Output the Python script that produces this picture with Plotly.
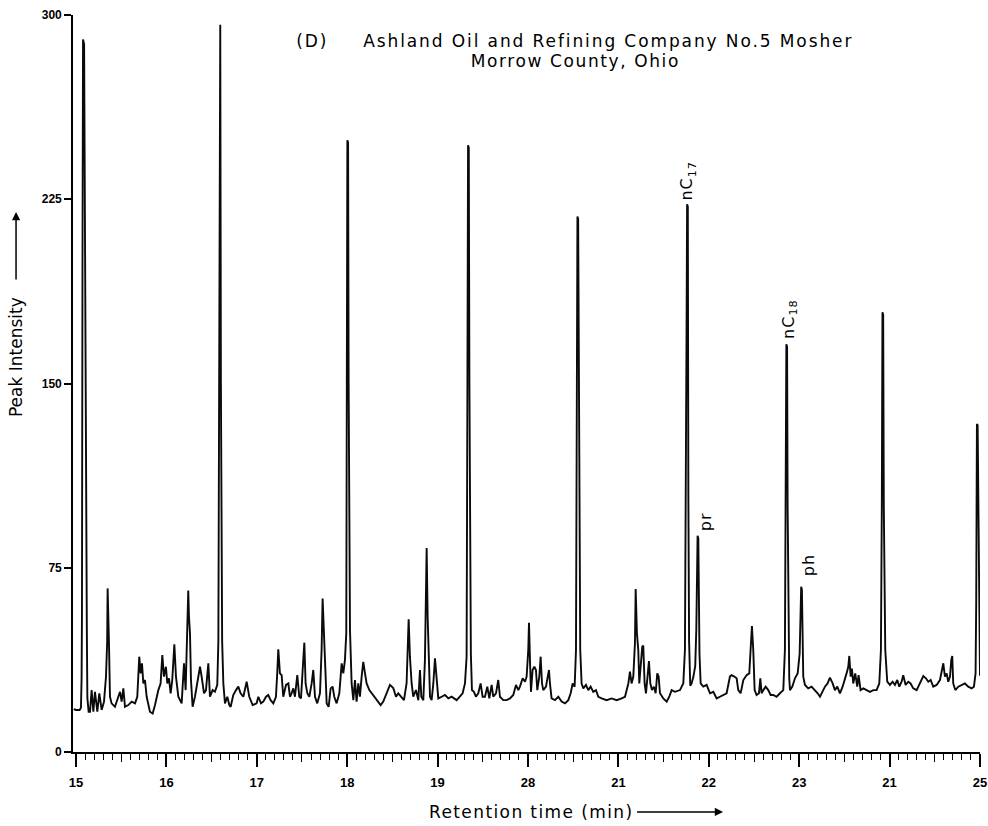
import plotly.graph_objects as go

# ---------------- data ----------------
rt = [
    14.975, 15.000, 15.040, 15.055, 15.062, 15.066, 15.072, 15.078, 15.090, 15.100,
    15.106, 15.114, 15.120, 15.126, 15.140, 15.155, 15.173, 15.192, 15.210, 15.236,
    15.258, 15.284, 15.310, 15.332, 15.345, 15.350, 15.356, 15.365, 15.376, 15.394,
    15.431, 15.468, 15.487, 15.505, 15.524, 15.542, 15.579, 15.616, 15.653, 15.678,
    15.700, 15.715, 15.730, 15.745, 15.763, 15.782, 15.818, 15.848, 15.874, 15.911,
    15.936, 15.955, 15.973, 15.995, 16.010, 16.029, 16.047, 16.065, 16.088, 16.106,
    16.132, 16.169, 16.195, 16.213, 16.235, 16.242, 16.250, 16.261, 16.272, 16.290,
    16.316, 16.342, 16.372, 16.390, 16.416, 16.438, 16.464, 16.482, 16.512, 16.537,
    16.563, 16.575, 16.582, 16.588, 16.596, 16.603, 16.610, 16.617, 16.630, 16.648,
    16.674, 16.696, 16.711, 16.740, 16.770, 16.796, 16.821, 16.851, 16.888, 16.917,
    16.954, 16.998, 17.017, 17.046, 17.072, 17.102, 17.127, 17.153, 17.183, 17.212,
    17.227, 17.238, 17.256, 17.275, 17.293, 17.323, 17.349, 17.367, 17.385, 17.404,
    17.422, 17.448, 17.470, 17.489, 17.514, 17.526, 17.540, 17.559, 17.581, 17.607,
    17.625, 17.644, 17.669, 17.699, 17.717, 17.728, 17.743, 17.754, 17.773, 17.795,
    17.817, 17.839, 17.857, 17.883, 17.913, 17.939, 17.957, 17.975, 17.990, 17.996,
    18.002, 18.010, 18.016, 18.024, 18.031, 18.049, 18.068, 18.086, 18.104, 18.123,
    18.141, 18.160, 18.178, 18.197, 18.215, 18.245, 18.270, 18.307, 18.344, 18.370,
    18.399, 18.436, 18.473, 18.510, 18.540, 18.565, 18.602, 18.628, 18.657, 18.668,
    18.680, 18.694, 18.713, 18.731, 18.761, 18.787, 18.805, 18.820, 18.842, 18.860,
    18.871, 18.879, 18.890, 18.901, 18.916, 18.934, 18.953, 18.971, 18.989, 19.008,
    19.045, 19.082, 19.119, 19.155, 19.211, 19.247, 19.277, 19.303, 19.321, 19.330,
    19.337, 19.345, 19.352, 19.360, 19.368, 19.380, 19.402, 19.424, 19.450, 19.476,
    19.498, 19.524, 19.550, 19.572, 19.598, 19.616, 19.646, 19.671, 19.690, 19.727,
    19.764, 19.801, 19.837, 19.867, 19.893, 19.911, 19.941, 19.967, 19.985, 20.003,
    20.011, 20.022, 20.033, 20.051, 20.070, 20.088, 20.103, 20.125, 20.140, 20.155,
    20.169, 20.199, 20.217, 20.232, 20.243, 20.261, 20.298, 20.335, 20.372, 20.409,
    20.446, 20.472, 20.494, 20.516, 20.531, 20.540, 20.547, 20.555, 20.562, 20.570,
    20.578, 20.593, 20.612, 20.641, 20.667, 20.693, 20.722, 20.752, 20.778, 20.815,
    20.870, 20.925, 20.981, 21.036, 21.073, 21.110, 21.128, 21.146, 21.165, 21.183,
    21.191, 21.205, 21.220, 21.231, 21.246, 21.264, 21.275, 21.290, 21.305, 21.323,
    21.338, 21.353, 21.371, 21.393, 21.412, 21.430, 21.445, 21.460, 21.497, 21.534,
    21.563, 21.589, 21.626, 21.681, 21.718, 21.736, 21.748, 21.755, 21.760, 21.768,
    21.774, 21.782, 21.795, 21.810, 21.830, 21.850, 21.862, 21.870, 21.876, 21.884,
    21.890, 21.897, 21.910, 21.939, 21.976, 22.013, 22.050, 22.087, 22.123, 22.160,
    22.197, 22.234, 22.252, 22.282, 22.308, 22.326, 22.352, 22.382, 22.418, 22.448,
    22.463, 22.477, 22.492, 22.507, 22.529, 22.555, 22.570, 22.584, 22.603, 22.629,
    22.658, 22.684, 22.713, 22.750, 22.787, 22.824, 22.842, 22.852, 22.858, 22.866,
    22.872, 22.880, 22.890, 22.898, 22.924, 22.953, 22.983, 23.005, 23.015, 23.022,
    23.030, 23.036, 23.045, 23.064, 23.100, 23.137, 23.174, 23.204, 23.230, 23.259,
    23.285, 23.314, 23.340, 23.370, 23.395, 23.421, 23.451, 23.480, 23.506, 23.524,
    23.543, 23.554, 23.569, 23.583, 23.598, 23.620, 23.642, 23.657, 23.679, 23.709,
    23.746, 23.783, 23.820, 23.856, 23.886, 23.904, 23.914, 23.921, 23.929, 23.936,
    23.944, 23.952, 23.974, 24.004, 24.033, 24.059, 24.085, 24.107, 24.133, 24.151,
    24.177, 24.207, 24.232, 24.262, 24.299, 24.336, 24.373, 24.402, 24.428, 24.454,
    24.483, 24.520, 24.557, 24.579, 24.594, 24.612, 24.631, 24.649, 24.668, 24.682,
    24.693, 24.704, 24.727, 24.760, 24.797, 24.833, 24.870, 24.907, 24.933, 24.951,
    24.958, 24.962, 24.966, 24.974, 24.980, 24.988, 24.995, 25.000,
]

intensity = [
    17.5, 17.1, 17.1, 18.0, 30.0, 55.0, 200.0, 290.0, 288.0, 200.0,
    100.0, 99.0, 50.0, 22.0, 16.4, 16.4, 25.2, 16.4, 24.5, 16.4,
    23.9, 17.1, 20.5, 30.7, 45.0, 66.6, 60.0, 44.2, 22.5, 19.8,
    18.4, 22.5, 24.5, 20.5, 25.9, 18.4, 19.1, 20.5, 19.8, 22.5,
    38.8, 32.0, 36.1, 27.9, 29.3, 22.5, 16.4, 15.7, 19.1, 25.2,
    27.9, 39.5, 30.7, 34.7, 27.9, 30.0, 23.9, 29.3, 43.8, 30.7,
    22.5, 19.8, 36.1, 25.2, 49.6, 65.7, 55.0, 48.3, 29.3, 18.4,
    22.5, 27.9, 34.7, 30.7, 23.9, 25.2, 36.1, 22.5, 25.2, 24.5,
    27.3, 45.0, 150.0, 296.0, 296.0, 150.0, 80.0, 45.0, 27.9, 19.8,
    22.5, 19.1, 18.4, 23.2, 25.2, 26.6, 23.9, 22.5, 28.6, 22.5,
    19.1, 19.8, 22.5, 19.8, 20.5, 22.5, 23.2, 21.1, 19.8, 22.5,
    32.7, 41.8, 32.0, 31.3, 22.5, 27.3, 27.9, 22.5, 23.9, 25.9,
    22.5, 31.3, 22.5, 21.8, 37.4, 44.5, 27.9, 23.9, 22.5, 27.9,
    33.4, 22.5, 19.8, 23.9, 41.5, 62.5, 48.3, 34.7, 19.8, 18.4,
    25.9, 26.6, 22.5, 19.8, 23.9, 36.1, 32.0, 37.4, 48.3, 150.0,
    249.0, 248.0, 150.0, 80.0, 49.6, 27.9, 21.1, 29.3, 20.5, 27.9,
    22.5, 30.7, 36.7, 32.0, 27.9, 25.2, 23.9, 22.5, 20.5, 19.1,
    20.5, 23.9, 27.3, 26.0, 22.5, 23.9, 22.5, 21.1, 27.9, 46.9,
    54.0, 38.8, 27.9, 22.5, 25.2, 21.1, 33.4, 22.5, 21.1, 37.4,
    69.3, 83.0, 55.1, 37.4, 22.5, 21.1, 27.9, 38.1, 27.9, 21.8,
    22.5, 23.2, 21.8, 22.5, 21.1, 22.5, 23.9, 27.9, 38.8, 150.0,
    247.0, 246.0, 150.0, 60.0, 40.0, 25.2, 24.5, 22.5, 23.9, 27.9,
    22.5, 22.5, 26.6, 21.8, 27.3, 22.5, 23.9, 29.3, 22.5, 21.1,
    21.1, 21.8, 23.2, 27.3, 25.2, 26.6, 30.0, 28.6, 30.7, 41.5,
    52.6, 37.4, 24.5, 33.4, 34.7, 33.4, 25.2, 30.7, 38.8, 27.9,
    25.2, 26.6, 30.7, 33.4, 27.9, 21.8, 21.1, 22.5, 20.5, 19.8,
    21.1, 23.9, 27.9, 26.6, 41.5, 150.0, 218.0, 217.0, 150.0, 60.0,
    41.5, 27.9, 25.9, 27.3, 25.2, 26.6, 24.5, 25.2, 22.5, 21.8,
    21.1, 21.8, 21.1, 21.8, 22.5, 27.9, 32.7, 27.9, 30.7, 44.2,
    66.3, 48.3, 41.5, 27.9, 33.4, 42.9, 43.3, 27.9, 23.9, 33.4,
    37.0, 27.9, 25.2, 26.6, 23.9, 32.0, 30.7, 23.9, 21.8, 20.5,
    22.5, 25.2, 24.5, 25.2, 27.9, 41.5, 104.0, 180.0, 223.0, 222.0,
    104.0, 45.0, 27.0, 27.9, 30.7, 35.0, 50.0, 68.0, 88.0, 87.0,
    60.0, 40.0, 27.9, 26.6, 27.3, 23.9, 24.5, 21.8, 22.5, 23.2,
    23.9, 30.7, 31.3, 30.7, 30.0, 25.2, 23.9, 29.3, 31.3, 32.0,
    41.5, 51.3, 41.5, 25.2, 23.2, 23.9, 30.0, 23.9, 25.2, 26.6,
    25.2, 23.2, 23.2, 22.5, 23.9, 25.2, 41.5, 100.0, 166.0, 165.0,
    100.0, 55.0, 30.0, 25.2, 26.6, 30.0, 32.0, 40.0, 55.0, 67.3,
    66.0, 55.0, 30.7, 27.3, 25.9, 26.6, 25.2, 23.9, 22.5, 24.5,
    26.6, 27.9, 30.3, 27.9, 25.2, 26.6, 23.9, 26.6, 29.3, 32.0,
    34.7, 39.1, 30.7, 34.0, 27.9, 32.0, 26.6, 31.3, 25.2, 25.9,
    25.2, 24.5, 25.2, 25.2, 27.9, 41.5, 100.0, 179.0, 178.0, 100.0,
    60.0, 41.5, 28.6, 27.3, 28.6, 27.3, 29.3, 26.6, 28.6, 31.3,
    27.3, 28.6, 27.9, 25.9, 25.2, 27.9, 30.9, 30.0, 28.6, 29.3,
    26.6, 27.3, 29.3, 33.4, 36.1, 30.7, 32.0, 28.6, 30.7, 37.4,
    39.1, 27.9, 25.2, 26.6, 27.3, 27.9, 26.6, 25.9, 26.6, 32.0,
    60.0, 101.0, 133.5, 133.0, 101.0, 60.0, 40.0, 31.0,
]

x_tick_values = [15, 16, 17, 18, 19, 20, 21, 22, 23, 24, 25]
x_tick_labels = ["15", "16", "17", "18", "19", "28", "21", "22", "23", "21", "25"]
x_half_ticks = [15.5, 16.5, 17.5, 18.5, 19.5, 20.5, 21.5, 22.5, 23.5, 24.5]
y_tick_values = [0, 75, 150, 225, 300]

peak_labels = ["nC<sub>17</sub>", "pr", "nC<sub>18</sub>", "ph"]
peak_label_rt = [21.764, 21.880, 22.862, 23.026]

title_tag = "(D)"
title_line1 = "Ashland Oil and Refining Company No.5 Mosher"
title_line2 = "Morrow County, Ohio"
x_title = "Retention time (min)"
y_title = "Peak Intensity"

# ---------------- figure ----------------
INK = "#000000"
TXT = dict(family="DejaVu Sans, Liberation Sans, Arial", size=17, color=INK)
LBL = dict(family="DejaVu Sans, Liberation Sans, Arial", size=16, color=INK)
TICKF = dict(family="Liberation Sans, Arial, sans-serif", size=13, color=INK, weight="bold")

fig = go.Figure()
fig.add_trace(go.Scatter(x=rt, y=intensity, mode="lines",
                         line=dict(color="#0a0a0a", width=1.9), hoverinfo="skip",
                         showlegend=False))
# helper trace so the half-minute tick axis is drawn
fig.add_trace(go.Scatter(x=[x_tick_values[0]], y=[None], xaxis="x2", mode="lines",
                         showlegend=False, hoverinfo="skip"))

x_range = [14.967, 25.0]
fig.update_layout(
    width=988, height=826,
    margin=dict(l=73, r=8, t=15, b=74, autoexpand=False),
    plot_bgcolor="white", paper_bgcolor="white",
    showlegend=False,
    xaxis=dict(range=x_range, showgrid=False, zeroline=False, automargin=False,
               showline=True, linecolor=INK, linewidth=1.6,
               ticks="outside", ticklen=13, tickwidth=1.6, tickcolor=INK,
               tickvals=x_tick_values, ticktext=x_tick_labels, tickfont=TICKF,
               ticklabelstandoff=5,
               minor=dict(dtick=0.1, tick0=15, ticks="outside", ticklen=6,
                          tickwidth=1.3, tickcolor=INK, showgrid=False)),
    xaxis2=dict(range=x_range, overlaying="x", anchor="y", side="bottom",
                showgrid=False, zeroline=False, showline=False, automargin=False,
                ticks="outside", ticklen=9, tickwidth=1.4, tickcolor=INK,
                tickvals=x_half_ticks, showticklabels=False),
    yaxis=dict(range=[0, 300], showgrid=False, zeroline=False, automargin=False,
               showline=True, linecolor=INK, linewidth=1.6,
               ticks="outside", ticklen=7, tickwidth=1.6, tickcolor=INK,
               tickvals=y_tick_values, tickfont=dict(TICKF, size=12)),
)

annotations = []
# title
annotations.append(dict(text=title_tag, xref="paper", yref="paper", x=0.2635, y=0.9647,
                        xanchor="center", yanchor="middle", showarrow=False, font=TXT))
annotations.append(dict(text=title_line1, xref="paper", yref="paper", x=0.5899, y=0.9647,
                        xanchor="center", yanchor="middle", showarrow=False, font=TXT))
annotations.append(dict(text=title_line2, xref="paper", yref="paper", x=0.5535, y=0.9376,
                        xanchor="center", yanchor="middle", showarrow=False, font=TXT))
# axis titles: the arrow head is the annotation point, the text sits at the tail
annotations.append(dict(text=x_title, xref="paper", yref="paper", x=0.7167, y=-0.0814,
                        ax=-192, ay=0, showarrow=True, arrowhead=2, arrowsize=1.1,
                        arrowwidth=1.5, arrowcolor=INK, startstandoff=16, font=TXT))
annotations.append(dict(text=y_title, xref="paper", yref="paper", x=-0.0628, y=0.7327,
                        ax=0, ay=145, textangle=-90, showarrow=True, arrowhead=2,
                        arrowsize=1.1, arrowwidth=1.5, arrowcolor=INK,
                        startstandoff=16, font=TXT))
# peak labels, placed on top of the peak they name
shifts = [(0, 4), (7, 4), (2, 5), (7, 9)]
for lab, t0, (dx, dy) in zip(peak_labels, peak_label_rt, shifts):
    top = max(v for t, v in zip(rt, intensity) if abs(t - t0) <= 0.012)
    annotations.append(dict(text=lab, x=t0, y=top, xref="x", yref="y",
                            xanchor="center", yanchor="bottom", textangle=-90,
                            xshift=dx, yshift=dy, showarrow=False, font=LBL))
fig.update_layout(annotations=annotations)

spacing = {0: "1.9px", 1: "1.9px", 2: "1.6px", 3: "1.4px",
           5: "1px", 6: "1px", 7: "1px", 8: "1px"}
js = """
var gd = document.getElementById('{plot_id}');
var ls = %s;
function applyLS(){
  for (var k in ls) {
    var t = gd.querySelector('g.annotation[data-index="' + k + '"] text.annotation-text');
    if (t) { t.style.letterSpacing = ls[k]; }
  }
  // drop the empty placeholder title texts that plotly creates
  var empties = gd.querySelectorAll('text.gtitle, text.xtitle, text.ytitle, text.x2title');
  for (var i = 0; i < empties.length; i++) {
    if (!empties[i].textContent) { empties[i].parentNode.removeChild(empties[i]); }
  }
}
applyLS();
if (gd.on) { gd.on('plotly_afterplot', applyLS); }
setTimeout(applyLS, 50);
""" % str(spacing).replace("'", '"')

fig.write_html("out.html", post_script=js)
